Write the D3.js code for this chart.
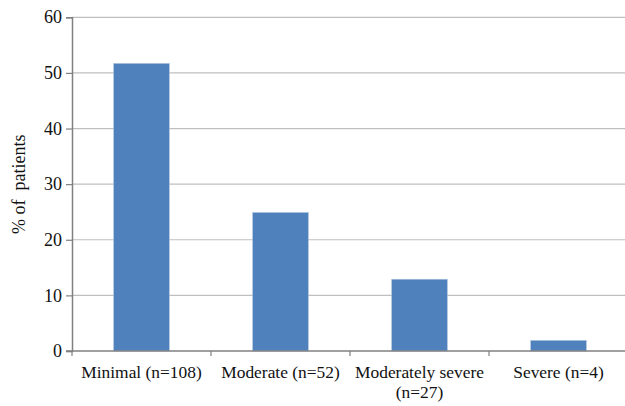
<!DOCTYPE html>
<html><head><meta charset="utf-8">
<script src="https://cdn.jsdelivr.net/npm/d3@7"></script>
</head><body style="margin:0">
<svg id="c" width="625" height="406"></svg>
<script>
const categories = [["Minimal (n=108)"], ["Moderate (n=52)"], ["Moderately severe", "(n=27)"], ["Severe (n=4)"]];
const values = [51.7, 24.9, 12.9, 1.9];
const yTicks = [0, 10, 20, 30, 40, 50, 60];
const yTitle = "% of  patients";

const svg = d3.select("#c");
const m = {l: 72, t: 17.3, r: 628, b: 351};
const keys = categories.map((d, i) => i);
const x = d3.scaleBand().domain(keys).range([m.l, m.r]).paddingInner(0.6).paddingOuter(0.3);
const xb = d3.scaleBand().domain(keys).range([m.l, m.r]);
const y = d3.scaleLinear().domain([0, 60]).range([m.b, m.t]);

svg.append("g").selectAll("line").data(yTicks.filter(d => d > 0)).join("line")
  .attr("x1", m.l).attr("x2", 625).attr("y1", d => y(d)).attr("y2", d => y(d))
  .attr("stroke", "#bfbfbf").attr("stroke-width", 1.2);

svg.append("g").selectAll("rect").data(values).join("rect")
  .attr("x", (d, i) => x(i)).attr("width", x.bandwidth())
  .attr("y", d => y(d)).attr("height", d => y(0) - y(d))
  .attr("fill", "#4f81bd").attr("stroke", "#a9c0dd").attr("stroke-width", 0.6);

const ya = d3.axisLeft(y).tickValues(yTicks).tickSize(6).tickPadding(4);
const gy = svg.append("g").attr("transform", `translate(${m.l},0)`).call(ya);
gy.select(".domain").attr("stroke", "#808080").attr("stroke-width", 1.5);
gy.selectAll(".tick line").attr("stroke", "#808080").attr("stroke-width", 1.2);
gy.selectAll("text").remove();

svg.selectAll("text.yt").data(yTicks).join("text").attr("class", "yt")
  .attr("x", m.l - 10).attr("y", d => y(d)).attr("dy", "0.34em").attr("text-anchor", "end")
  .style("font-family", '"Liberation Serif"').attr("font-size", 18).attr("fill", "#111").text(d => d);

svg.append("line").attr("x1", m.l - 6).attr("x2", 625).attr("y1", y(0)).attr("y2", y(0))
  .attr("stroke", "#808080").attr("stroke-width", 1.5);
svg.append("g").selectAll("line").data(keys).join("line")
  .attr("x1", d => xb(d)).attr("x2", d => xb(d)).attr("y1", y(0)).attr("y2", y(0) + 5)
  .attr("stroke", "#808080").attr("stroke-width", 1.2);

const lines = [];
categories.forEach((c, i) => c.forEach((t, j) => lines.push({t, i, j})));
svg.selectAll("text.xl").data(lines).join("text").attr("class", "xl")
  .attr("x", d => xb(d.i) + xb.bandwidth() / 2).attr("y", d => 378 + d.j * 20)
  .attr("text-anchor", "middle").style("font-family", '"Liberation Serif"').attr("font-size", 17.4)
  .attr("fill", "#111").text(d => d.t);

svg.append("text").attr("transform", `translate(25,${(m.t + m.b) / 2}) rotate(-90)`)
  .attr("text-anchor", "middle").style("font-family", '"Liberation Serif"').attr("font-size", 18)
  .attr("fill", "#111").style("white-space", "pre").text(yTitle);
</script></body></html>
